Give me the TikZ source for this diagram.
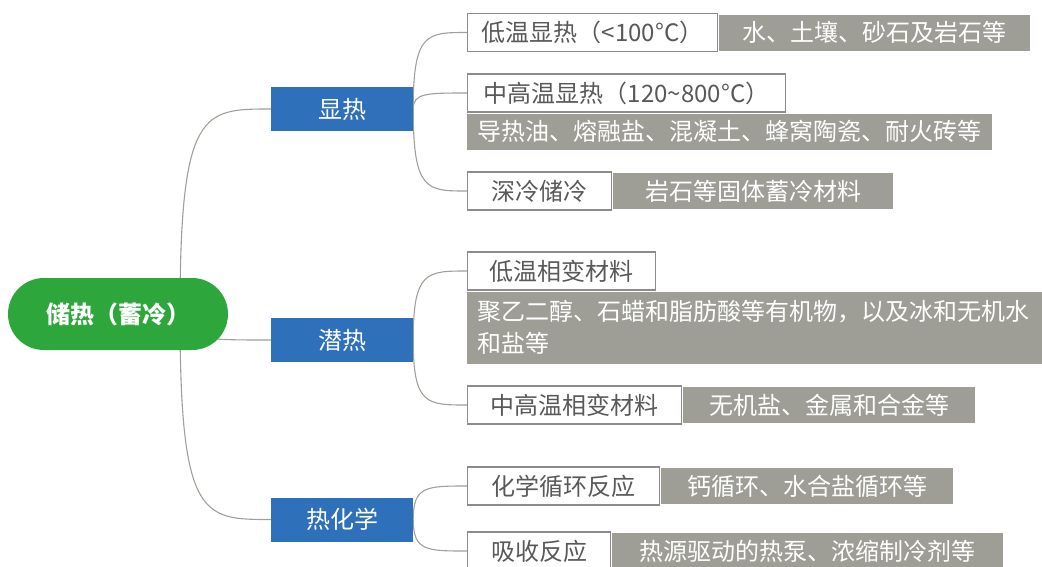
\documentclass[tikz,border=0pt]{standalone}
\usepackage{fontspec}
\setmainfont{Noto Sans CJK SC}
\usetikzlibrary{calc,backgrounds}
\definecolor{rootgreen}{RGB}{45,167,60}
\definecolor{mainblue}{RGB}{46,112,186}
\definecolor{notegray}{RGB}{158,158,150}
\definecolor{boxline}{RGB}{140,140,140}
\definecolor{boxtext}{RGB}{89,89,89}
\definecolor{linkgray}{RGB}{160,160,152}
\tikzset{
  bigtext/.style={font=\fontsize{24}{32}\selectfont},
  rootnode/.style={bigtext, fill=rootgreen, text=white, font=\fontsize{24}{32}\selectfont\bfseries,
    minimum width=220pt, minimum height=72pt, rounded corners=35.9pt, inner sep=0pt},
  topic/.style={bigtext, fill=mainblue, text=white, minimum width=142pt, minimum height=44pt, inner sep=0pt},
  sub/.style={bigtext, draw=boxline, line width=1.3pt, fill=white, text=boxtext,
    minimum height=38pt, inner sep=0pt, anchor=west},
  note/.style={bigtext, fill=notegray, text=white, minimum height=36pt, inner sep=0pt},
  link/.style={draw=linkgray, line width=1.1pt},
}
\newcommand{\mmlink}[2]{\draw[link] (#1) .. controls ($(#1)!1!(#1|-#2)$) and ($(#1|-#2)!0.25!(#2)$) .. (#2);}
\begin{document}
\begin{tikzpicture}[x=1pt,y=-1pt]
\useasboundingbox (0,0) rectangle (1042,566);
% root and main topics
\node[rootnode] (root) at (118,314) {储热（蓄冷）};
\node[topic] (t1) at (342,109) {显热};
\node[topic] (t2) at (342,340) {潜热};
\node[topic] (t3) at (342,519.5) {热化学};
% sub topics
\node[sub, minimum width=250pt] (w1) at (467,32.5) {低温显热（<100°C）};
\node[sub, minimum width=318pt] (w2) at (467,93) {中高温显热（120\textasciitilde800°C）};
\node[sub, minimum width=144pt] (w3) at (467,191) {深冷储冷};
\node[sub, minimum width=188pt] (w4) at (467,271) {低温相变材料};
\node[sub, minimum width=214pt] (w5) at (467,405) {中高温相变材料};
\node[sub, minimum width=192pt] (w6) at (467,486) {化学循环反应};
\node[sub, minimum width=143pt] (w7) at (467,551) {吸收反应};
% notes
\node[note, anchor=west, minimum width=311pt] (g1) at ([xshift=0.65pt]w1.east) {水、土壤、砂石及岩石等};
\node[note, anchor=north west, minimum width=525pt] (g2) at ([yshift=-0.65pt]w2.south west) {导热油、熔融盐、混凝土、蜂窝陶瓷、耐火砖等};
\node[note, anchor=west, minimum width=280pt] (g3) at ([xshift=0.65pt]w3.east) {岩石等固体蓄冷材料};
\node[note, anchor=north west, minimum width=575pt, minimum height=72pt, text width=555pt, align=left, inner xsep=10pt] (g4) at ([yshift=-0.65pt]w4.south west) {聚乙二醇、石蜡和脂肪酸等有机物，以及冰和无机水\\和盐等};
\node[note, anchor=west, minimum width=292pt] (g5) at ([xshift=0.65pt]w5.east) {无机盐、金属和合金等};
\node[note, anchor=west, minimum width=292pt] (g6) at ([xshift=0.65pt]w6.east) {钙循环、水合盐循环等};
\node[note, anchor=west, minimum width=391pt] (g7) at ([xshift=0.65pt]w7.east) {热源驱动的热泵、浓缩制冷剂等};
% connectors
\coordinate (rootjoin) at ($(root.center)+(62,0)$);
\coordinate (t1in) at (t1.west);
\coordinate (t2in) at (t2.west);
\coordinate (t3in) at (t3.west);
\begin{scope}[on background layer]
\mmlink{rootjoin}{t1in}
\mmlink{rootjoin}{t2in}
\mmlink{rootjoin}{t3in}
\end{scope}
\coordinate (t1out) at (t1.east);
\coordinate (t2out) at (t2.east);
\coordinate (t3out) at (t3.east);
\coordinate (w1in) at (w1.west);
\coordinate (w2in) at (w2.west);
\coordinate (w3in) at (w3.west);
\coordinate (w4in) at (w4.west);
\coordinate (w5in) at (w5.west);
\coordinate (w6in) at (w6.west);
\coordinate (w7in) at (w7.west);
\begin{scope}[on background layer]
\mmlink{t1out}{w1in}
\mmlink{t1out}{w2in}
\mmlink{t1out}{w3in}
\mmlink{t2out}{w4in}
\mmlink{t2out}{w5in}
\mmlink{t3out}{w6in}
\mmlink{t3out}{w7in}
\end{scope}
\end{tikzpicture}
\end{document}
